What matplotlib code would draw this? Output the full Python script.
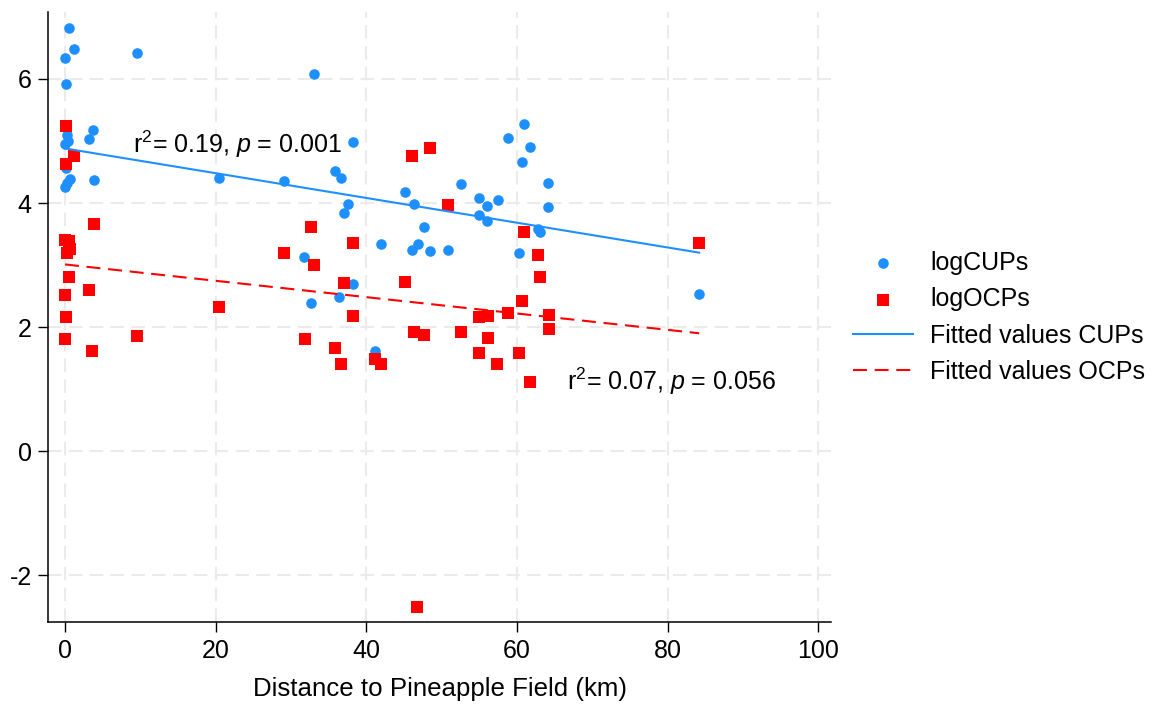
import matplotlib
matplotlib.use("Agg")
import matplotlib.pyplot as plt

plt.rcParams['font.family'] = ['Liberation Sans', 'DejaVu Sans']
plt.rcParams['axes.unicode_minus'] = False
plt.rcParams['mathtext.fontset'] = 'custom'
plt.rcParams['mathtext.rm'] = 'Liberation Sans'
plt.rcParams['mathtext.it'] = 'Liberation Sans:italic'

# ---- data ----
cups_x = [0.53, 1.24, 0.0, 9.6, 33.1, 0.17,
          0.2, 0.45, 0.0, 3.7, 3.2,
          0.66, 0.0, 0.3, 3.9, 0.13,
          20.4, 29.1, 35.9, 36.6, 38.3,
          37.6, 37.1, 41.9, 31.7, 38.3, 32.6, 36.4, 41.1,
          45.2, 46.3, 47.7, 46.8, 46.1, 48.5, 50.8,
          52.6, 54.9, 56.0, 57.5, 54.9, 56.0,
          58.8, 60.9, 61.8, 60.7, 64.1, 64.1, 62.8, 63.1, 60.3, 84.2]
cups_y = [6.83, 6.49, 6.34, 6.42, 6.08, 5.92,
          5.10, 5.00, 4.95, 5.17, 5.04,
          4.39, 4.26, 4.33, 4.37, 4.56,
          4.40, 4.35, 4.52, 4.40, 4.98,
          3.98, 3.84, 3.34, 3.13, 2.69, 2.39, 2.49, 1.61,
          4.17, 3.98, 3.61, 3.34, 3.24, 3.23, 3.25,
          4.30, 4.08, 3.95, 4.05, 3.81, 3.71,
          5.05, 5.28, 4.90, 4.66, 4.32, 3.94, 3.58, 3.54, 3.20, 2.53]

ocps_x = [0.13, 1.24, 0.13,
          3.8, 0.0, 0.5, 0.6, 0.25, 0.57, 3.2, 0.0, 0.13, 0.0, 3.6, 9.6, 20.4, 29.1, 32.6, 33.1,
          46.1, 48.5, 50.9, 38.3, 37.1, 45.2, 38.3,
          60.9, 62.8, 63.1, 60.7, 58.8, 54.9, 56.1, 64.2, 64.2,
          31.8, 46.3, 47.7, 52.6, 56.1, 35.9, 36.6, 41.1, 41.9, 54.9, 60.3, 57.4,
          84.2, 61.8, 46.7]
ocps_y = [5.25, 4.76, 4.63,
          3.66, 3.40, 3.38, 3.26, 3.19, 2.80, 2.60, 2.52, 2.16, 1.81, 1.61, 1.85, 2.33, 3.19, 3.61, 3.00,
          4.76, 4.88, 3.97, 3.35, 2.71, 2.73, 2.18,
          3.53, 3.16, 2.80, 2.42, 2.23, 2.17, 2.18, 2.19, 1.97,
          1.80, 1.92, 1.87, 1.92, 1.82, 1.66, 1.40, 1.48, 1.40, 1.58, 1.58, 1.40,
          3.35, 1.11, -2.51]

fit_x = [0.0, 84.2]
fit_cups = [4.88, 3.20]
fit_ocps = [3.01, 1.90]

xticks = [0, 20, 40, 60, 80, 100]
yticks = [-2, 0, 2, 4, 6]

label_cups = "logCUPs"
label_ocps = "logOCPs"
label_fit_cups = "Fitted values CUPs"
label_fit_ocps = "Fitted values OCPs"
ann1 = r"r$^2$= 0.19, $p$ = 0.001"
ann2 = r"r$^2$= 0.07, $p$ = 0.056"
xlabel = "Distance to Pineapple Field (km)"

BLUE = "#1E8FFF"
RED = "#FF0000"
FS = 18

fig = plt.figure(figsize=(11.59, 7.04), dpi=100)
ax = fig.add_axes([48.3/1159, 1-622.3/704, (831-48.3)/1159, (622.3-12)/704])

ax.grid(True, color="#ebebeb", linewidth=1.5, linestyle=(0, (6.5, 3.5)))
ax.set_axisbelow(True)

ax.scatter(cups_x, cups_y, s=58, marker='o', color=BLUE, linewidths=0, label=label_cups, zorder=3)
ax.scatter(ocps_x, ocps_y, s=64, marker='s', color=RED, linewidths=0, label=label_ocps, zorder=3)
ax.plot(fit_x, fit_cups, color=BLUE, lw=1.5, label=label_fit_cups, zorder=4)
ax.plot(fit_x, fit_ocps, color=RED, lw=1.5, linestyle=(0, (6.7, 3.7)), label=label_fit_ocps, zorder=4)

ax.text(9.0, 4.94, ann1, fontsize=FS, ha='left', va='center', zorder=5)
ax.text(66.7, 1.13, ann2, fontsize=FS, ha='left', va='center', zorder=5)

ax.set_xlim(-2.22, 101.7)
ax.set_ylim(-2.76, 7.08)
ax.set_xticks(xticks)
ax.set_yticks(yticks)
ax.set_yticklabels([str(t) for t in yticks])
ax.tick_params(direction='out', length=7, width=1, labelsize=FS, pad=5, colors='black')
for side in ['top', 'right']:
    ax.spines[side].set_visible(False)
for side in ['left', 'bottom']:
    ax.spines[side].set_linewidth(1.1)
ax.set_xlabel(xlabel, fontsize=18.6, labelpad=10)

fig.legend(loc='center left', bbox_to_anchor=(853/1159, 1-317.5/704), frameon=False,
           fontsize=FS, handlelength=2.4, handletextpad=0.68, labelspacing=0.5,
           borderpad=0, borderaxespad=0)

fig.savefig("out.png", dpi=100)
